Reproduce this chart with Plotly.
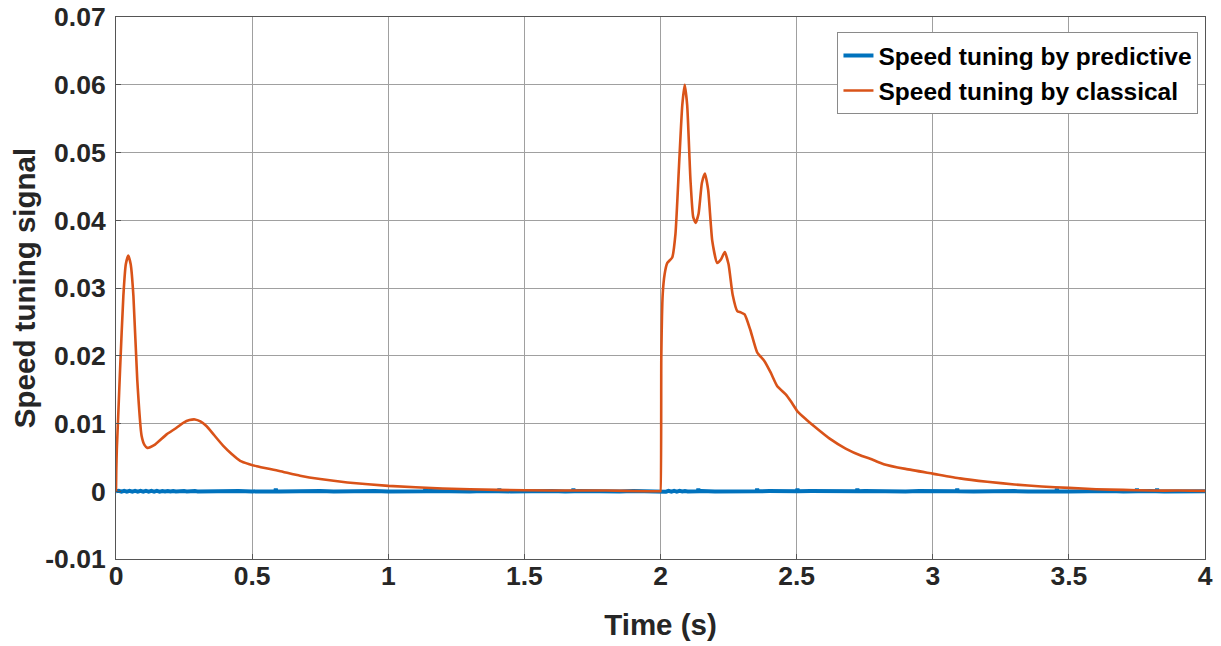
import plotly.graph_objects as go

# Classical (orange) series: time (s) and value
t_classical = [0.0, 0.001, 0.003, 0.008, 0.015, 0.027, 0.036, 0.045, 0.054, 0.064, 0.078, 0.094, 0.105,
               0.115, 0.14, 0.186, 0.22, 0.247, 0.27, 0.29, 0.31, 0.333, 0.36, 0.394, 0.425, 0.456, 0.49,
               0.517, 0.6, 0.676, 0.75, 0.85, 1.0, 1.2, 1.4, 1.6, 1.8, 1.95, 1.999,
               2.0, 2.003, 2.008, 2.015, 2.025, 2.043, 2.055, 2.068, 2.08, 2.089, 2.098, 2.11, 2.12, 2.129,
               2.14, 2.152, 2.163, 2.175, 2.19, 2.208, 2.222, 2.236, 2.25, 2.265, 2.282, 2.295, 2.309,
               2.33, 2.355, 2.382, 2.405, 2.429, 2.46, 2.48, 2.503, 2.535, 2.57, 2.62, 2.68, 2.74, 2.77,
               2.82, 2.9, 3.0, 3.1, 3.2, 3.3, 3.4, 3.5, 3.6, 3.7, 3.8, 3.9, 4.0]
v_classical = [0.0, 0.003, 0.0062, 0.011, 0.018, 0.0288, 0.0335, 0.0348, 0.0335, 0.0288, 0.0165, 0.0082, 0.0068,
               0.0064, 0.0068, 0.0084, 0.0093, 0.0101, 0.0105, 0.0106, 0.0103, 0.0096, 0.0083, 0.0067, 0.0055, 0.0045, 0.004,
               0.0037, 0.003, 0.0023, 0.0018, 0.0013, 0.0008, 0.0004, 0.0002, 0.0001, 0.0001, 0.0, 0.0,
               0.0, 0.02, 0.029, 0.032, 0.0337, 0.0345, 0.038, 0.048, 0.057, 0.060, 0.057, 0.046, 0.0405, 0.0396,
               0.041, 0.0455, 0.0469, 0.0445, 0.037, 0.0337, 0.0342, 0.0353, 0.0335, 0.029, 0.0266, 0.0264, 0.0261,
               0.0238, 0.0205, 0.0192, 0.0175, 0.0155, 0.0143, 0.0132, 0.0118, 0.0106, 0.0094, 0.0078, 0.0063, 0.0052, 0.0048,
               0.0040, 0.0033, 0.0026, 0.0019, 0.0014, 0.001, 0.0007, 0.0005, 0.0003, 0.0002, 0.0001, 0.0001, 0.00005]

# Predictive (blue) series: dense near-zero ripple with occasional small spikes
t_predictive = [
    0.0, 0.01, 0.02, 0.03, 0.04, 0.05, 0.06, 0.07, 0.08, 0.09, 0.1, 0.11, 0.12, 0.13, 0.14, 0.15,
    0.16, 0.17, 0.18, 0.19, 0.2, 0.21, 0.22, 0.23, 0.24, 0.25, 0.26, 0.27, 0.28, 0.29, 0.3,
    0.35, 0.4, 0.45, 0.5, 0.55, 0.585, 0.587, 0.589, 0.6, 0.65, 0.7, 0.75, 0.8, 0.85, 0.9, 0.95,
    1.0, 1.05, 1.1, 1.134, 1.136, 1.138, 1.15, 1.2, 1.25, 1.3, 1.35, 1.406, 1.408, 1.41, 1.45,
    1.5, 1.55, 1.6, 1.65, 1.678, 1.68, 1.682, 1.7, 1.75, 1.8, 1.85, 1.9, 1.95,
    2.0, 2.01, 2.02, 2.03, 2.04, 2.05, 2.06, 2.07, 2.08, 2.09, 2.1,
    2.137, 2.139, 2.141, 2.15, 2.2, 2.25, 2.3, 2.353, 2.355, 2.357, 2.4, 2.45, 2.501, 2.503, 2.505,
    2.55, 2.6, 2.65, 2.7, 2.721, 2.723, 2.725, 2.75, 2.8, 2.85, 2.9, 2.95, 3.0, 3.05, 3.088, 3.09,
    3.092, 3.15, 3.2, 3.25, 3.3, 3.35, 3.4, 3.454, 3.456, 3.458, 3.5, 3.55, 3.6, 3.65, 3.7, 3.748,
    3.75, 3.752, 3.8, 3.822, 3.824, 3.826, 3.85, 3.9, 3.95, 4.0]
v_predictive = [
    0.0, 0.00007, -0.00007, 0.00007, -0.00007, 0.00006, -0.00006, 0.00006, -0.00006, 0.00006, -0.00006, 0.00005, -0.00005, 0.00005, -0.00005, 0.00005,
    -0.00005, 0.00004, -0.00004, 0.00004, -0.00004, 0.00004, -0.00004, 0.00003, -0.00003, 0.00003, -0.00003, 0.00003, -0.00003, 0.00002, -0.00002,
    0.00002, -0.00002, 0.00002, -0.00002, 0.00002, 0.0, 0.0004, 0.0, -0.00002, 0.00002, -0.00002, 0.00002, -0.00002, 0.00002, -0.00002, 0.00002,
    -0.00002, 0.00002, -0.00002, 0.0, 0.0004, 0.0, 0.00002, -0.00002, 0.00002, -0.00002, 0.00002, 0.0, 0.0004, 0.0, -0.00002,
    0.00002, -0.00002, 0.00002, -0.00002, 0.0, 0.0004, 0.0, 0.00002, -0.00002, 0.00002, -0.00002, 0.00002, -0.00002,
    0.0, 0.00007, -0.00007, 0.00007, -0.00006, 0.00006, -0.00005, 0.00005, -0.00004, 0.00003, -0.00002,
    0.0, 0.0004, 0.0, 0.00002, -0.00002, 0.00002, -0.00002, 0.0, 0.0004, 0.0, 0.00002, -0.00002, 0.0, 0.0004, 0.0,
    0.00002, -0.00002, 0.00002, -0.00002, 0.0, 0.0004, 0.0, 0.00002, -0.00002, 0.00002, -0.00002, 0.00002, -0.00002, 0.00002, 0.0, 0.0004,
    0.0, -0.00002, 0.00002, -0.00002, 0.00002, -0.00002, 0.00002, 0.0, 0.0004, 0.0, -0.00002, 0.00002, -0.00002, 0.00002, -0.00002, 0.0,
    0.0004, 0.0, 0.00002, 0.0, 0.0004, 0.0, -0.00002, 0.00002, -0.00002, 0.0]

x_tick_vals = [0, 0.5, 1, 1.5, 2, 2.5, 3, 3.5, 4]
x_tick_text = ["0", "0.5", "1", "1.5", "2", "2.5", "3", "3.5", "4"]
y_tick_vals = [-0.01, 0, 0.01, 0.02, 0.03, 0.04, 0.05, 0.06, 0.07]
y_tick_text = ["-0.01", "0", "0.01", "0.02", "0.03", "0.04", "0.05", "0.06", "0.07"]

fig = go.Figure()
fig.add_trace(go.Scatter(x=t_predictive, y=v_predictive, mode="lines",
                         name="Speed tuning by predictive",
                         line=dict(color="#0072BD", width=4)))
fig.add_trace(go.Scatter(x=t_classical, y=v_classical, mode="lines",
                         name="Speed tuning by classical",
                         line=dict(color="#D95319", width=2.6, shape="spline", smoothing=0.5)))

font_family = "Liberation Sans, Arial, sans-serif"
fig.update_layout(
    width=1221, height=646,
    margin=dict(l=116, r=16, t=17, b=87),
    paper_bgcolor="white", plot_bgcolor="white",
    font=dict(family=font_family, color="#262626"),
    showlegend=True,
    legend=dict(x=0.994, y=0.972, xanchor="right", yanchor="top",
                bgcolor="white", bordercolor="#8a8a8a", borderwidth=1,
                font=dict(size=24.5, family=font_family, color="black", weight="bold"),
                tracegroupgap=0, itemwidth=30),
    xaxis=dict(range=[0, 4], tickvals=x_tick_vals, ticktext=x_tick_text,
               showgrid=True, gridcolor="#a0a0a0", gridwidth=1,
               showline=True, linecolor="#555555", linewidth=1, mirror=True,
               ticks="inside", ticklen=5, tickcolor="#555555", zeroline=False,
               ticklabelstandoff=-7, automargin=False,
               tickfont=dict(size=26.5, family=font_family, color="#262626", weight="bold"),
               title=dict(text="Time (s)", standoff=24,
                          font=dict(size=29.5, family=font_family, color="#262626", weight="bold"))),
    yaxis=dict(range=[-0.01, 0.07], tickvals=y_tick_vals, ticktext=y_tick_text,
               showgrid=True, gridcolor="#a0a0a0", gridwidth=1,
               showline=True, linecolor="#555555", linewidth=1, mirror=True,
               ticks="inside", ticklen=5, tickcolor="#555555", zeroline=False,
               ticklabelstandoff=4, automargin=False,
               tickfont=dict(size=26.5, family=font_family, color="#262626", weight="bold"),
               title=dict(text="Speed tuning signal", standoff=0,
                          font=dict(size=29.5, family=font_family, color="#262626", weight="bold"))),
)

fig.write_html("out.html")
